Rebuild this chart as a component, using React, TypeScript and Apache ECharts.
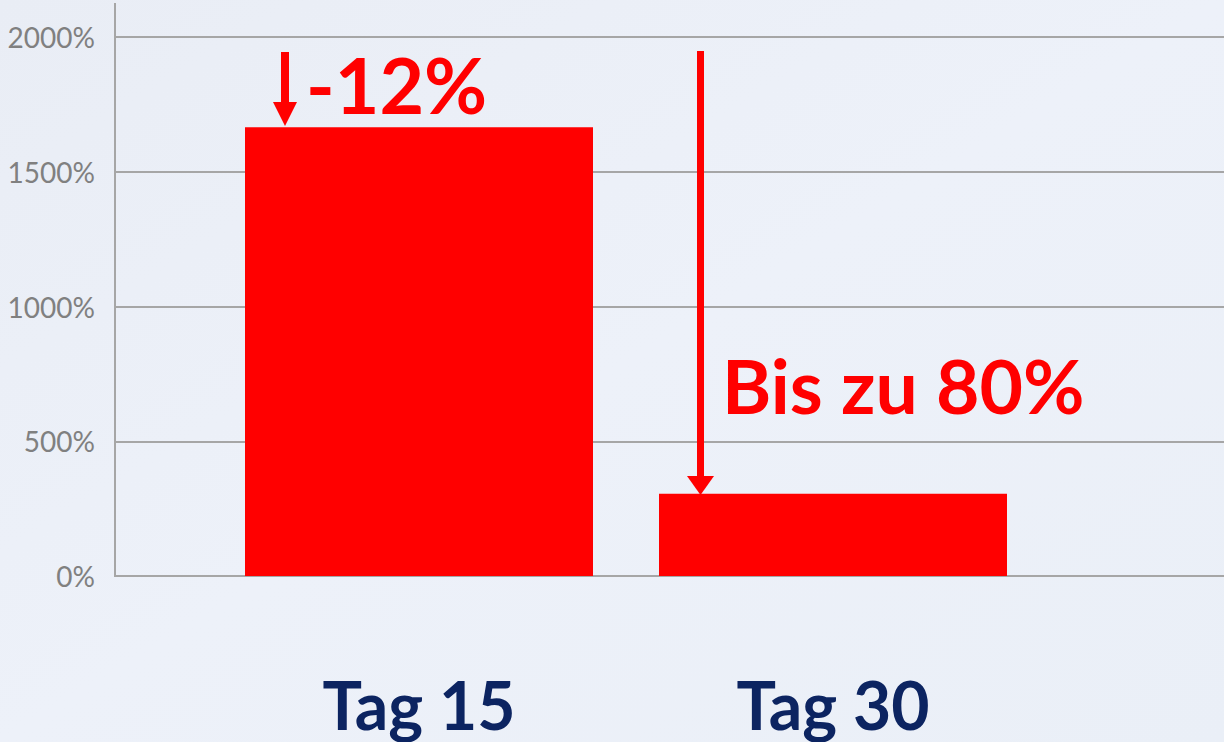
import React, { useEffect, useRef } from "react";
import * as echarts from "echarts";

const categories = ["Tag 15", "Tag 30"];
const values = [1665, 305];
const yTicks = [0, 500, 1000, 1500, 2000];
const annotationTop = "-12%";
const annotationRight = "Bis zu 80%";

export default function App() {
  const ref = useRef<HTMLDivElement>(null);
  useEffect(() => {
    if (!ref.current) return;
    const chart = echarts.init(ref.current, null, { renderer: "svg" });
    const gray = "#a6a6a6";
    const red = "#ff0000";
    const option: any = {
      animation: false,
      backgroundColor: {
        type: "linear",
        x: 0,
        y: 0,
        x2: 1,
        y2: 1,
        colorStops: [
          { offset: 0, color: "#e9edf5" },
          { offset: 0.5, color: "#edf1f9" },
          { offset: 1, color: "#eaeff7" },
        ],
      },
      grid: [
        { left: 115, right: 0, top: 37, bottom: 166 },
        { left: 212, right: 184, top: 37, bottom: 166 },
      ],
      xAxis: [
        { gridIndex: 0, type: "value", min: 0, max: 1, show: false },
        {
          gridIndex: 1,
          type: "category",
          data: categories,
          axisLine: { show: false },
          axisTick: { show: false },
          axisLabel: {
            margin: 128,
            verticalAlign: "middle",
            fontFamily: "Lato",
            fontWeight: "bold",
            fontSize: 66,
            color: "#0c2461",
          },
        },
      ],
      yAxis: [
        {
          gridIndex: 0,
          type: "value",
          min: yTicks[0],
          max: yTicks[yTicks.length - 1],
          interval: yTicks[1] - yTicks[0],
          axisLine: { show: false },
          axisTick: { show: false },
          splitLine: { show: true, lineStyle: { color: gray, width: 2 } },
          axisLabel: {
            margin: 20,
            formatter: (v: number) => String(v) + "%",
            fontFamily: "Lato",
            fontSize: 28,
            color: "#808080",
          },
        },
        {
          gridIndex: 1,
          type: "value",
          min: yTicks[0],
          max: yTicks[yTicks.length - 1],
          show: false,
        },
      ],
      series: [
        {
          type: "bar",
          xAxisIndex: 1,
          yAxisIndex: 1,
          data: values,
          barWidth: 348,
          itemStyle: { color: red },
        },
      ],
      graphic: [
        {
          type: "line",
          shape: { x1: 115, y1: 3, x2: 115, y2: 577 },
          style: { stroke: gray, lineWidth: 2 },
          z: 1,
        },
        {
          type: "line",
          shape: { x1: 285, y1: 52, x2: 285, y2: 104 },
          style: { stroke: red, lineWidth: 8 },
          z: 10,
        },
        {
          type: "polygon",
          shape: { points: [[273, 102], [297, 102], [285, 126]] },
          style: { fill: red },
          z: 10,
        },
        {
          type: "line",
          shape: { x1: 700.5, y1: 51, x2: 700.5, y2: 478 },
          style: { stroke: red, lineWidth: 7 },
          z: 10,
        },
        {
          type: "polygon",
          shape: { points: [[687, 476], [714, 476], [700.5, 495]] },
          style: { fill: red },
          z: 10,
        },
        {
          type: "text",
          x: 306,
          y: 84,
          style: {
            text: annotationTop,
            fill: red,
            fontFamily: "Lato",
            fontWeight: "bold",
            fontSize: 77,
            verticalAlign: "middle",
            align: "left",
          },
          z: 10,
        },
        {
          type: "text",
          x: 722,
          y: 385,
          style: {
            text: annotationRight,
            fill: red,
            fontFamily: "Lato",
            fontWeight: "bold",
            fontSize: 75,
            verticalAlign: "middle",
            align: "left",
          },
          z: 10,
        },
      ],
    };
    chart.setOption(option);
    return () => chart.dispose();
  }, []);
  return (
    <div
      ref={ref}
      style={{ position: "fixed", left: 0, top: 0, width: 1224, height: 742 }}
    />
  );
}
